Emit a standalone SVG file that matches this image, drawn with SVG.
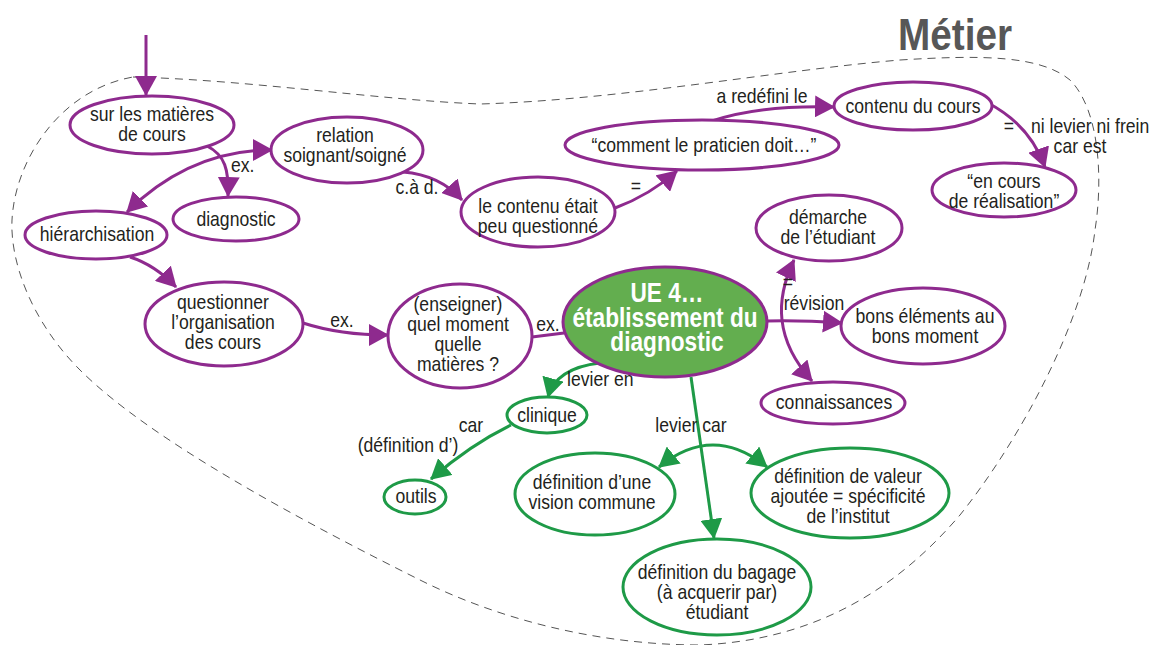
<svg xmlns="http://www.w3.org/2000/svg" width="1156" height="645" viewBox="0 0 1156 645">
<style>
text{font-family:"Liberation Sans",Arial,sans-serif;font-size:20px;fill:#231f20;text-anchor:middle}
.st{text-anchor:start}
.p{fill:#fff;stroke:#8e2a8e;stroke-width:3}
.g{fill:#fff;stroke:#1e9a47;stroke-width:3}
.lp{fill:none;stroke:#8e2a8e;stroke-width:3}
.lg{fill:none;stroke:#1e9a47;stroke-width:3}
.ctr{fill:#63ae4f;stroke:#8e2a8e;stroke-width:3}
.ct{fill:#fff;font-weight:bold;font-size:27px}
</style>
<defs>
<marker id="ap" markerUnits="userSpaceOnUse" markerWidth="20" markerHeight="22" refX="19" refY="11" orient="auto-start-reverse" viewBox="0 0 20 22"><path d="M0,0 L20,11 L0,22 Z" fill="#8e2a8e"/></marker>
<marker id="ag" markerUnits="userSpaceOnUse" markerWidth="20" markerHeight="22" refX="19" refY="11" orient="auto-start-reverse" viewBox="0 0 20 22"><path d="M0,0 L20,11 L0,22 Z" fill="#1e9a47"/></marker>
</defs>
<path id="boundary" d="M133,77 C250,80 380,100 480,104 C620,100 780,70 900,60 C980,55 1040,55 1070,80 C1100,110 1103,180 1095,230 C1085,320 1020,440 960,515 C900,585 820,640 700,645 C600,645 500,620 420,580 C300,520 150,440 80,370 C30,320 10,260 12,220 C15,160 60,90 133,77 Z" fill="none" stroke="#555" stroke-width="1" stroke-dasharray="8,6"/>
<text transform="translate(955 0) scale(.88 1)" y="50" style="font-size:44px;font-weight:bold;fill:#575757">Métier</text>
<g id="connectors">
<path class="lp" d="M146,35 L146,95" marker-end="url(#ap)"/>
<path class="lp" d="M207,146 C225,155 229,170 228,196" marker-end="url(#ap)"/>
<path class="lp" d="M127,212 Q190,150 272,150" marker-start="url(#ap)" marker-end="url(#ap)"/>
<path class="lp" d="M403,172 Q440,175 462,200" marker-end="url(#ap)"/>
<path class="lp" d="M615,208 Q650,195 677,171" marker-end="url(#ap)"/>
<path class="lp" d="M712,121 Q760,105 834,107" marker-end="url(#ap)"/>
<path class="lp" d="M988,103 Q1030,125 1045,167" marker-end="url(#ap)"/>
<path class="lp" d="M130,257 Q155,265 176,287" marker-end="url(#ap)"/>
<path class="lp" d="M303,323 Q340,335 388,335" marker-end="url(#ap)"/>
<path class="lp" d="M532,337 L564,333"/>
<path class="lp" d="M794,260 C775,300 775,340 812,381" marker-start="url(#ap)" marker-end="url(#ap)"/>
<path class="lp" d="M767,321 Q800,320 842,323" marker-end="url(#ap)"/>
<path class="lg" d="M600,363 Q556,368 548,397" marker-end="url(#ag)"/>
<path class="lg" d="M511,425 Q470,445 431,479" marker-end="url(#ag)"/>
<path class="lg" d="M691,377 L714,538" marker-end="url(#ag)"/>
<path class="lg" d="M659,467 Q713,423 767,467" marker-start="url(#ag)" marker-end="url(#ag)"/>
<text class="st" transform="translate(231 0) scale(.88 1)" y="172">ex.</text>
<text transform="translate(417 0) scale(.88 1)" y="194">c.à d.</text>
<text transform="translate(636 0) scale(.88 1)" y="193">=</text>
<text transform="translate(762 0) scale(.88 1)" y="103">a redéfini le</text>
<text transform="translate(1009 0) scale(.88 1)" y="133">=</text>
<text class="st" transform="translate(1031 0) scale(.88 1)" y="133">ni levier ni frein</text>
<text transform="translate(1080 0) scale(.88 1)" y="153">car est</text>
<text transform="translate(342 0) scale(.88 1)" y="327">ex.</text>
<text transform="translate(548 0) scale(.88 1)" y="331">ex.</text>
<text transform="translate(788 0) scale(.88 1)" y="289">=</text>
<text transform="translate(814 0) scale(.88 1)" y="310">révision</text>
<text class="st" transform="translate(567 0) scale(.88 1)" y="386">levier en</text>
<text transform="translate(471 0) scale(.88 1)" y="432">car</text>
<text transform="translate(408 0) scale(.88 1)" y="452">(définition d’)</text>
<text transform="translate(691 0) scale(.88 1)" y="432">levier car</text>
</g>
<g id="n1"><ellipse class="p" cx="152" cy="125" rx="82" ry="29"/><text transform="translate(152 0) scale(.88 1)" y="121">sur les matières</text><text transform="translate(152 0) scale(.88 1)" y="141">de cours</text></g>
<g id="n2"><ellipse class="p" cx="347" cy="150" rx="76" ry="33"/><text transform="translate(345 0) scale(.88 1)" y="142">relation</text><text transform="translate(345 0) scale(.88 1)" y="162">soignant/soigné</text></g>
<g id="n3"><ellipse class="p" cx="236" cy="219" rx="63" ry="22"/><text transform="translate(236 0) scale(.88 1)" y="226">diagnostic</text></g>
<g id="n4"><ellipse class="p" cx="96" cy="235" rx="71" ry="24"/><text transform="translate(97 0) scale(.88 1)" y="241">hiérarchisation</text></g>
<g id="n5"><ellipse class="p" cx="538" cy="212" rx="77" ry="35"/><text transform="translate(538 0) scale(.88 1)" y="213">le contenu était</text><text transform="translate(538 0) scale(.88 1)" y="233">peu questionné</text></g>
<g id="n6"><ellipse class="p" cx="702" cy="145" rx="137" ry="25"/><text transform="translate(704 0) scale(.88 1)" y="152">“comment le praticien doit…”</text></g>
<g id="n7"><ellipse class="p" cx="913" cy="106" rx="79" ry="24"/><text transform="translate(913 0) scale(.88 1)" y="113">contenu du cours</text></g>
<g id="n8"><ellipse class="p" cx="1004" cy="190" rx="72" ry="27"/><text transform="translate(1004 0) scale(.88 1)" y="188">“en cours</text><text transform="translate(1004 0) scale(.88 1)" y="208">de réalisation”</text></g>
<g id="n9"><ellipse class="p" cx="829" cy="228" rx="73" ry="33"/><text transform="translate(828 0) scale(.88 1)" y="224">démarche</text><text transform="translate(828 0) scale(.88 1)" y="244">de l’étudiant</text></g>
<g id="n10"><ellipse class="ctr" cx="665" cy="322" rx="102" ry="55"/><text class="ct" transform="translate(667 0) scale(.84 1)" y="302">UE 4…</text><text class="ct" transform="translate(665 0) scale(.84 1)" y="327">établissement du</text><text class="ct" transform="translate(667 0) scale(.84 1)" y="351">diagnostic</text></g>
<g id="n11"><ellipse class="p" cx="923" cy="326" rx="82" ry="38"/><text transform="translate(925 0) scale(.88 1)" y="323">bons éléments au</text><text transform="translate(925 0) scale(.88 1)" y="343">bons moment</text></g>
<g id="n12"><ellipse class="p" cx="833" cy="403" rx="72" ry="21"/><text transform="translate(834 0) scale(.88 1)" y="409">connaissances</text></g>
<g id="n13"><ellipse class="p" cx="224" cy="324" rx="79" ry="42"/><text transform="translate(223 0) scale(.88 1)" y="309">questionner</text><text transform="translate(223 0) scale(.88 1)" y="329">l’organisation</text><text transform="translate(223 0) scale(.88 1)" y="349">des cours</text></g>
<g id="n14"><ellipse class="p" cx="460" cy="336" rx="72" ry="52"/><text transform="translate(458 0) scale(.88 1)" y="311">(enseigner)</text><text transform="translate(458 0) scale(.88 1)" y="331">quel moment</text><text transform="translate(458 0) scale(.88 1)" y="351">quelle</text><text transform="translate(458 0) scale(.88 1)" y="371">matières ?</text></g>
<g id="n15"><ellipse class="g" cx="547" cy="415" rx="40" ry="18"/><text transform="translate(547 0) scale(.88 1)" y="422">clinique</text></g>
<g id="n16"><ellipse class="g" cx="415" cy="497" rx="31" ry="17"/><text transform="translate(416 0) scale(.88 1)" y="503">outils</text></g>
<g id="n17"><ellipse class="g" cx="595" cy="494" rx="80" ry="41"/><text transform="translate(592 0) scale(.88 1)" y="489">définition d’une</text><text transform="translate(592 0) scale(.88 1)" y="509">vision commune</text></g>
<g id="n18"><ellipse class="g" cx="850" cy="493" rx="99" ry="45"/><text transform="translate(848 0) scale(.88 1)" y="483">définition de valeur</text><text transform="translate(848 0) scale(.88 1)" y="503">ajoutée = spécificité</text><text transform="translate(848 0) scale(.88 1)" y="523">de l’institut</text></g>
<g id="n19"><ellipse class="g" cx="717" cy="587" rx="94" ry="48"/><text transform="translate(717 0) scale(.88 1)" y="579">définition du bagage</text><text transform="translate(717 0) scale(.88 1)" y="599">(à acquerir par)</text><text transform="translate(717 0) scale(.88 1)" y="619">étudiant</text></g>
</svg>
